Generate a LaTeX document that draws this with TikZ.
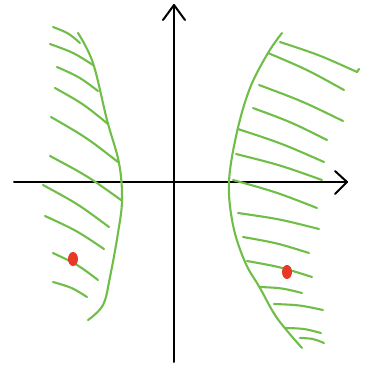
\documentclass[tikz,border=0pt]{standalone}
\usepackage{tikz}
\usepackage{xcolor}
\usetikzlibrary{calc}

\definecolor{sketchgreen}{RGB}{112,190,72}
\definecolor{dotred}{RGB}{232,56,40}

\tikzset{
  axis/.style={line width=2pt, black, line cap=round, line join=round},
  border/.style={line width=2.1pt, sketchgreen, line cap=round, line join=round},
  hatch/.style={line width=2.1pt, sketchgreen, line cap=round},
  spot/.style={fill=dotred, draw=none}
}

\begin{document}
\begin{tikzpicture}[x=1pt,y=-1pt]
\useasboundingbox (0,0) rectangle (367,370);

% Axes
\coordinate (xl) at (14,182);
\coordinate (xr) at (347,182);
\coordinate (yb) at (174,362);
\coordinate (yt) at (174,5);
\draw[axis] (xl) -- (xr);
\draw[axis] (335,171) -- (xr) -- (335,194);
\draw[axis] (yb) -- (yt);
\draw[axis] (163,20) -- (yt) -- (185,20);

% Left boundary
\draw[border] plot[smooth, tension=0.6] coordinates
  {(78,33) (93,63) (107,120) (119,163) (122,200) (118,233) (110,277) (103,305) (88,320)};

% Left hatching
\foreach \ax/\ay/\bx/\by in {53/27/80/43, 50/44/93/65, 57/67/98/91, 55/88/108/124,
  51/117/118/162, 50/156/121/200, 43/185/109/227, 45/216/104/249, 53/253/98/280, 53/282/87/297} {
  \draw[hatch] (\ax,\ay) .. controls ($(\ax,\ay)!0.5!(\bx,\by)+(2,-2)$) .. (\bx,\by);
}

% Right boundary
\draw[border] plot[smooth, tension=0.6] coordinates
  {(282,33) (268,53) (250,88) (237,132) (229,182) (233,225) (245,262) (260,288) (277,318) (302,348)};

% Right hatching
\foreach \ax/\ay/\bx/\by in {280/42/357/72, 268/53/344/90, 259/85/343/121, 253/108/327/140,
  238/129/324/162, 236/154/322/180, 233/180/317/208, 238/213/319/229, 243/237/309/253,
  247/261/312/277, 260/287/302/293, 274/304/323/310, 285/328/321/333, 300/338/324/343} {
  \draw[hatch] (\ax,\ay) .. controls ($(\ax,\ay)!0.5!(\bx,\by)+(1,-2)$) .. (\bx,\by);
}
\draw[hatch] (357,72) -- (359,69);

% Points
\fill[spot] (73,259) ellipse (5 and 7);
\fill[spot] (287,272) ellipse (5 and 7);
\end{tikzpicture}
\end{document}
